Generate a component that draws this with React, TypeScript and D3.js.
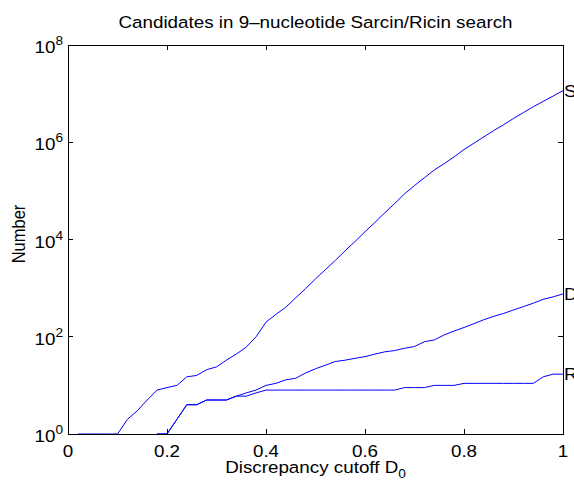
import React from "react";
import * as d3 from "d3";

const cutoffs = [
  0, 0.02, 0.04, 0.06, 0.08, 0.1, 0.12, 0.14, 0.16, 0.18,
  0.2, 0.22, 0.24, 0.26, 0.28, 0.3, 0.32, 0.34, 0.36, 0.38,
  0.4, 0.42, 0.44, 0.46, 0.48, 0.5, 0.52, 0.54, 0.56, 0.58,
  0.6, 0.62, 0.64, 0.66, 0.68, 0.7, 0.72, 0.74, 0.76, 0.78,
  0.8, 0.82, 0.84, 0.86, 0.88, 0.9, 0.92, 0.94, 0.96, 0.98, 1,
];

const seriesS = [
  0, 1, 1, 1, 1, 1, 2, 3, 5, 8,
  9, 10, 15, 16, 21, 24, 33, 44, 61, 100,
  200, 288, 405, 631, 977, 1549, 2399, 3715, 5888, 9120,
  14450, 22390, 35480, 54950, 87100, 128800, 186200, 269200, 363100, 501200,
  707900, 955000, 1288000, 1738000, 2291000, 3090000, 4074000, 5370000, 6918000, 8913000, 11480000,
];

const seriesD = [
  0, 0, 0, 0, 0, 0, 0, 0, 0, 1,
  1, 2, 4, 4, 5, 5, 5, 6, 7, 8,
  10, 11, 13, 14, 18, 22, 26, 31, 33, 36,
  39, 44, 49, 52, 58, 63, 79, 86, 109, 131,
  155, 186, 224, 263, 302, 355, 417, 490, 589, 661, 760,
];

const seriesR = [
  0, 0, 0, 0, 0, 0, 0, 0, 0, 1,
  1, 2, 4, 4, 5, 5, 5, 6, 6, 7,
  8, 8, 8, 8, 8, 8, 8, 8, 8, 8,
  8, 8, 8, 8, 9, 9, 9, 10, 10, 10,
  11, 11, 11, 11, 11, 11, 11, 11, 15, 17, 17,
];

const seriesNames = ["S", "D", "R"];
const xTicks = [0, 0.2, 0.4, 0.6, 0.8, 1];
const xTickLabels = ["0", "0.2", "0.4", "0.6", "0.8", "1"];
const yTicks = [1, 1e2, 1e4, 1e6, 1e8];
const yTickExps = ["0", "2", "4", "6", "8"];

const title = "Candidates in 9\u2013nucleotide Sarcin/Ricin search";
const xLabel = "Discrepancy cutoff D";
const xLabelSub = "0";
const yLabel = "Number";

const W = 574;
const H = 482;
const L = 68;
const R = 563;
const T = 45;
const B = 434;
const FONT = "'Liberation Sans', Arial, Helvetica, sans-serif";
const FS = 16.5;
const SX = 1.14;

function ST(props: { x: number; y: number; anchor?: string; size?: number; children: any }) {
  const { x, y, anchor = "start", size = FS, children } = props;
  return (
    <text
      transform={`translate(${x},${y}) scale(${SX},1)`}
      textAnchor={anchor}
      fontSize={size}
      fill="#000"
    >
      {children}
    </text>
  );
}

export default function App() {
  const x = d3.scaleLinear().domain([0, 1]).range([L, R]);
  const y = d3.scaleLog().domain([1, 1e8]).range([B, T]);
  const line = d3
    .line<number>()
    .defined((v) => v > 0)
    .x((_, i) => x(cutoffs[i]))
    .y((v) => y(v));
  const all = [seriesS, seriesD, seriesR];
  const tick = 5;

  return (
    <svg
      width={W}
      height={H}
      style={{ position: "fixed", left: 0, top: 0, background: "#fff" }}
      fontFamily={FONT}
    >
      <rect x={0} y={0} width={W} height={H} fill="#fff" />
      {all.map((s, k) => (
        <path key={k} d={line(s) || ""} fill="none" stroke="#0000ff" strokeWidth={1} />
      ))}
      <rect x={L} y={T} width={R - L} height={B - T} fill="none" stroke="#000" strokeWidth={1} shapeRendering="crispEdges" />
      {xTicks.map((t, i) => (
        <g key={"xt" + i}>
          <line x1={x(t)} x2={x(t)} y1={B} y2={B - tick} stroke="#000" shapeRendering="crispEdges" />
          <line x1={x(t)} x2={x(t)} y1={T} y2={T + tick} stroke="#000" shapeRendering="crispEdges" />
          <ST x={x(t)} y={457} anchor="middle">
            {xTickLabels[i]}
          </ST>
        </g>
      ))}
      {yTicks.map((t, i) => (
        <g key={"yt" + i}>
          <line x1={L} x2={L + tick} y1={y(t)} y2={y(t)} stroke="#000" shapeRendering="crispEdges" />
          <line x1={R} x2={R - tick} y1={y(t)} y2={y(t)} stroke="#000" shapeRendering="crispEdges" />
          <ST x={63} y={y(t) + 8} anchor="end">
            <tspan>10</tspan>
            <tspan dy={-8} fontSize={12}>{yTickExps[i]}</tspan>
          </ST>
        </g>
      ))}
      {all.map((s, k) => (
        <ST key={"lab" + k} x={R + 1} y={y(s[s.length - 1]) + 6}>
          {seriesNames[k]}
        </ST>
      ))}
      <ST x={(L + R) / 2} y={28} anchor="middle">
        {title}
      </ST>
      <ST x={(L + R) / 2} y={473} anchor="middle">
        <tspan>{xLabel}</tspan>
        <tspan dy={5} fontSize={12}>{xLabelSub}</tspan>
      </ST>
      <text
        transform={`translate(25,234) rotate(-90) scale(1,${SX})`}
        fontSize={FS}
        textAnchor="middle"
        fill="#000"
      >
        {yLabel}
      </text>
    </svg>
  );
}
